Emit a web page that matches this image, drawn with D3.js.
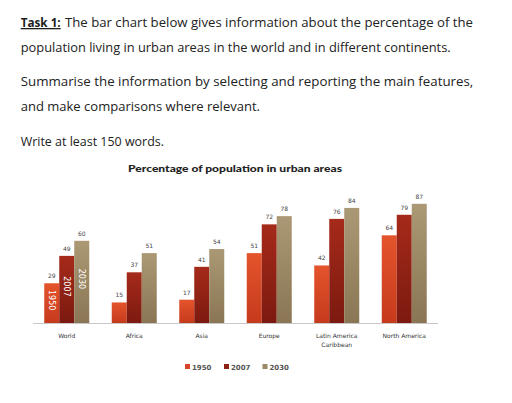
<!DOCTYPE html>
<html><head><meta charset="utf-8">
<script src="https://cdn.jsdelivr.net/npm/d3@7"></script>
<style>body{margin:0;background:#fff}svg{display:block}</style>
</head><body><svg id="c" width="512" height="403"></svg>
<script>
const categories = ["World","Africa","Asia","Europe","Latin America\nCaribbean","North America"];
const years = ["1950","2007","2030"];
const v1950 = [29,15,17,51,42,64];
const v2007 = [49,37,41,72,76,79];
const v2030 = [60,51,54,78,84,87];
const series = [v1950, v2007, v2030];
const colors = {"1950":["#e4542c","#c63a1c"],"2007":["#a52a1a","#7c1a10"],"2030":["#ab9874","#8a7654"]};
const legendColors = ["#d8452a","#8e2014","#9c8864"];
const introLines = [
 {t:"The bar chart below gives information about the percentage of the", y:27, w:[65,473]},
 {t:"population living in urban areas in the world and in different continents.", y:52, w:[20.7,450.7]},
 {t:"Summarise the information by selecting and reporting the main features,", y:86, w:[20.7,473.3]},
 {t:"and make comparisons where relevant.", y:111, w:[20.7,260]},
 {t:"Write at least 150 words.", y:146, w:[20.7,164]}
];

const svg = d3.select("#c");
svg.append("text").attr("x",20.7).attr("y",27).attr("font-family","'Open Sans', sans-serif")
 .attr("font-size",13).attr("font-weight","bold").attr("fill","#1e1e1e").attr("text-decoration","underline")
 .attr("textLength",40).attr("lengthAdjust","spacingAndGlyphs").text("Task 1:");
introLines.forEach(l=>{
  svg.append("text").attr("x",l.w[0]).attr("y",l.y).attr("font-family","'Open Sans', sans-serif")
   .attr("font-size",13).attr("fill","#222")
   .attr("textLength",l.w[1]-l.w[0]).attr("lengthAdjust","spacingAndGlyphs").text(l.t);
});

svg.append("text").attr("x",235).attr("y",172).attr("text-anchor","middle")
 .attr("font-family","Lato, sans-serif").attr("font-weight","900").attr("font-size",9.5).attr("fill","#222")
 .attr("textLength",214).attr("lengthAdjust","spacingAndGlyphs")
 .text("Percentage of population in urban areas");

const x0 = d3.scaleBand().domain(categories).range([33,438]).paddingInner(1/3).paddingOuter(1/6);
const x1 = d3.scaleBand().domain(years).range([0,x0.bandwidth()]);
const y = d3.scaleLinear().domain([0,100]).range([323,186]);

const defs = svg.append("defs");
years.forEach(yr=>{
  const g = defs.append("linearGradient").attr("id","g"+yr).attr("x1",0).attr("x2",0).attr("y1",0).attr("y2",1);
  g.append("stop").attr("offset","0%").attr("stop-color",colors[yr][0]);
  g.append("stop").attr("offset","100%").attr("stop-color",colors[yr][1]);
});

svg.append("line").attr("x1",33).attr("x2",438).attr("y1",y(0)+0.5).attr("y2",y(0)+0.5).attr("stroke","#c8c8c8").attr("stroke-width",1);

const groups = svg.selectAll("g.cat").data(categories).join("g").attr("class","cat")
 .attr("transform",d=>`translate(${x0(d)},0)`);
groups.each(function(cat,ci){
  const g = d3.select(this);
  years.forEach((yr,si)=>{
    const val = series[si][ci];
    g.append("rect").attr("x",x1(yr)).attr("width",x1.bandwidth()).attr("y",y(val)).attr("height",y(0)-y(val))
     .attr("fill",`url(#g${yr})`);
    g.append("text").attr("x",x1(yr)+x1.bandwidth()/2).attr("y",y(val)-5).attr("text-anchor","middle")
     .attr("font-family","'DejaVu Sans', sans-serif").attr("font-size",6).attr("fill","#444").text(val);
    if(ci===0){
      const cx = x1(yr)+x1.bandwidth()/2, cy=(y(val)+y(0))/2 - 3;
      g.append("text").attr("transform",`translate(${cx},${cy}) rotate(90)`).attr("text-anchor","middle")
       .attr("dy","0.35em").attr("font-family","'DejaVu Sans', sans-serif")
       .attr("font-size",8).attr("fill","#fff").text(yr);
    }
  });
  const lines = cat.split("\n");
  lines.forEach((ln,li)=>{
    g.append("text").attr("x",x0.bandwidth()/2).attr("y",338+li*9).attr("text-anchor","middle")
     .attr("font-family","'DejaVu Sans', sans-serif").attr("font-size",6).attr("fill","#333").text(ln);
  });
});

const lx = [185,224,262.5];
years.forEach((yr,i)=>{
  svg.append("rect").attr("x",lx[i]).attr("y",364).attr("width",5).attr("height",5).attr("fill",legendColors[i]);
  svg.append("text").attr("x",lx[i]+7).attr("y",369.5).attr("font-family","'DejaVu Sans', sans-serif")
   .attr("font-size",7).attr("font-weight","bold").attr("fill","#555").text(yr);
});
</script></body></html>
